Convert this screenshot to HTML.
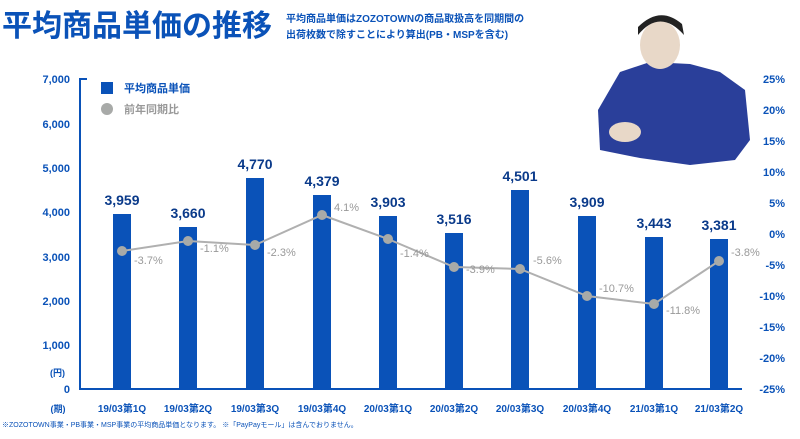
<!DOCTYPE html>
<html><head><meta charset="utf-8"><style>
body{margin:0;background:#fff;width:800px;height:434px;overflow:hidden;font-family:"Liberation Sans","Noto Sans CJK JP",sans-serif}
</style></head><body>
<svg width="800" height="434" xmlns="http://www.w3.org/2000/svg" font-family="Liberation Sans, Noto Sans CJK JP, sans-serif">
<text x="2" y="36" font-size="30" font-weight="bold" fill="#0a52b8">平均商品単価の推移</text>
<text x="286" y="22" font-size="10" font-weight="bold" fill="#0a52b8">平均商品単価はZOZOTOWNの商品取扱高を同期間の</text>
<text x="286" y="38" font-size="10" font-weight="bold" fill="#0a52b8">出荷枚数で除すことにより算出(PB・MSPを含む)</text>
<!-- illustration approx -->
<path d="M598 110 L620 72 L650 62 L690 64 L720 72 L745 90 L750 140 L735 160 L690 165 L640 158 L600 150 Z" fill="#2a3f9a"/>
<ellipse cx="660" cy="45" rx="20" ry="24" fill="#e8d8c8"/>
<path d="M638 35 Q660 8 684 35 L682 24 Q660 5 638 27Z" fill="#222"/>
<ellipse cx="625" cy="132" rx="16" ry="10" fill="#e8d8c8"/>
<!-- axes -->
<g font-size="11" fill="#0a52b8" font-weight="bold" text-anchor="end">
<text x="70" y="83">7,000</text><text x="70" y="128">6,000</text><text x="70" y="172">5,000</text><text x="70" y="216">4,000</text><text x="70" y="261">3,000</text><text x="70" y="305">2,000</text><text x="70" y="349">1,000</text><text x="70" y="393">0</text>
<text x="65" y="376" font-size="9">(円)</text>
</g>
<g font-size="11" fill="#0a52b8" font-weight="bold" text-anchor="end">
<text x="785" y="83">25%</text><text x="785" y="114">20%</text><text x="785" y="145">15%</text><text x="785" y="176">10%</text><text x="785" y="207">5%</text><text x="785" y="238">0%</text><text x="785" y="269">-5%</text><text x="785" y="300">-10%</text><text x="785" y="331">-15%</text><text x="785" y="362">-20%</text><text x="785" y="393">-25%</text>
</g>
<path d="M87 79 H80 V389 H742" stroke="#0a52b8" stroke-width="2" fill="none"/>
<rect x="101" y="82" width="12" height="12" fill="#0a52b8"/>
<text x="124" y="92" font-size="11" font-weight="bold" fill="#0a52b8">平均商品単価</text>
<circle cx="107" cy="109" r="6" fill="#a8aaa8"/>
<text x="124" y="113" font-size="11" font-weight="bold" fill="#999">前年同期比</text>
<g fill="#0a52b8">
<rect x="113" y="214" width="18" height="175"/><rect x="179" y="227" width="18" height="162"/><rect x="246" y="178" width="18" height="211"/><rect x="313" y="195" width="18" height="194"/><rect x="379" y="216" width="18" height="173"/><rect x="445" y="233" width="18" height="156"/><rect x="511" y="190" width="18" height="199"/><rect x="578" y="216" width="18" height="173"/><rect x="645" y="237" width="18" height="152"/><rect x="710" y="239" width="18" height="150"/>
</g>
<g font-size="14" fill="#0a3a8a" font-weight="bold" text-anchor="middle">
<text x="122" y="205">3,959</text><text x="188" y="218">3,660</text><text x="255" y="169">4,770</text><text x="322" y="186">4,379</text><text x="388" y="207">3,903</text><text x="454" y="224">3,516</text><text x="520" y="181">4,501</text><text x="587" y="207">3,909</text><text x="654" y="228">3,443</text><text x="719" y="230">3,381</text>
</g>
<polyline points="122,251 188,241 255,245 322,215 388,239 454,267 520,269 587,296 654,304 719,261" fill="none" stroke="#b0b0b0" stroke-width="2"/>
<g fill="#a8aaa8"><circle cx="122" cy="251" r="5"/><circle cx="188" cy="241" r="5"/><circle cx="255" cy="245" r="5"/><circle cx="322" cy="215" r="5"/><circle cx="388" cy="239" r="5"/><circle cx="454" cy="267" r="5"/><circle cx="520" cy="269" r="5"/><circle cx="587" cy="296" r="5"/><circle cx="654" cy="304" r="5"/><circle cx="719" cy="261" r="5"/></g>
<g font-size="11" fill="#999">
<text x="134" y="264">-3.7%</text><text x="200" y="252">-1.1%</text><text x="267" y="256">-2.3%</text><text x="334" y="211">4.1%</text><text x="400" y="257">-1.4%</text><text x="466" y="273">-3.9%</text><text x="533" y="264">-5.6%</text><text x="599" y="292">-10.7%</text><text x="666" y="314">-11.8%</text><text x="731" y="256">-3.8%</text>
</g>
<g font-size="10" fill="#0a52b8" font-weight="bold" text-anchor="middle">
<text x="58" y="412" font-size="9">(期)</text>
<text x="122" y="412">19/03第1Q</text><text x="188" y="412">19/03第2Q</text><text x="255" y="412">19/03第3Q</text><text x="322" y="412">19/03第4Q</text><text x="388" y="412">20/03第1Q</text><text x="454" y="412">20/03第2Q</text><text x="520" y="412">20/03第3Q</text><text x="587" y="412">20/03第4Q</text><text x="654" y="412">21/03第1Q</text><text x="719" y="412">21/03第2Q</text>
</g>
<text x="2" y="427" font-size="7" fill="#0a52b8">※ZOZOTOWN事業・PB事業・MSP事業の平均商品単価となります。 ※「PayPayモール」は含んでおりません。</text>
</svg>
</body></html>
